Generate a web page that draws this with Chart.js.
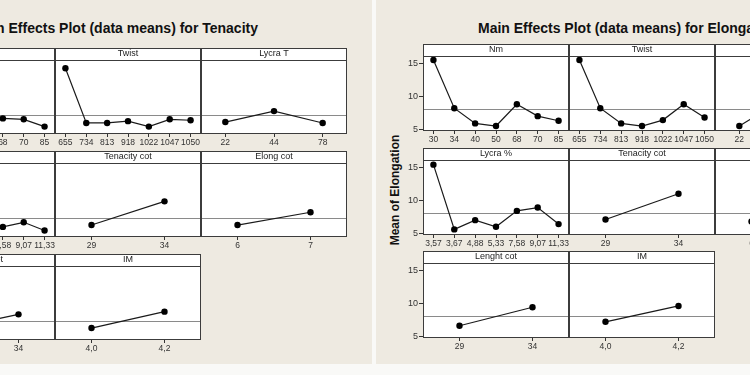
<!DOCTYPE html>
<html>
<head>
<meta charset="utf-8">
<script src="https://cdn.jsdelivr.net/npm/chart.js@4"></script>
<style>
  body { margin: 0; width: 750px; height: 375px; overflow: hidden; position: relative; background: #f9f9f7; }
  .half { position: absolute; top: 0; height: 364px; background: #eeeae1; }
  .title { position: absolute; top: 20px; font: bold 14px/16px "Liberation Sans", Arial, sans-serif; color: #111; white-space: nowrap; }
  .ytitle { position: absolute; font: bold 12px/14px "Liberation Sans", Arial, sans-serif; color: #111; white-space: nowrap;
            transform: translate(-50%, -50%) rotate(-90deg); }
  canvas { position: absolute; }
</style>
</head>
<body>
<div class="half" style="left:0;width:372px"></div>
<div class="half" style="left:376px;width:374px"></div>
<div class="title" style="right:492px">Main Effects Plot (data means) for Tenacity</div>
<div class="title" style="left:478px">Main Effects Plot (data means) for Elongation</div>
<div class="ytitle" style="left:395px;top:190px">Mean of Elongation</div>
<script>
// factor levels
var nmLevels = ["30", "34", "40", "50", "68", "70", "85"];
var twistLevels = ["655", "734", "813", "918", "1022", "1047", "1050"];
var lycraTLevels = ["22", "44", "78"];
var lycraPctLevels = ["3,57", "3,67", "4,88", "5,33", "7,58", "9,07", "11,33"];
var tenCotLevels = ["29", "34"];
var elongCotLevels = ["6", "7"];
var lenCotLevels = ["29", "34"];
var imLevels = ["4,0", "4,2"];

// means for Tenacity
var tenNm = [15.1, 9.1, 9.1, 9.3, 9.6, 9.5, 8.7];
var tenTwist = [15.1, 9.1, 9.1, 9.3, 8.7, 9.5, 9.4];
var tenLycraT = [9.2, 10.4, 9.1];
var tenLycraPct = [14.8, 9.1, 9.2, 9.3, 9.0, 9.5, 8.6];
var tenTenCot = [9.2, 11.8];
var tenElongCot = [9.2, 10.6];
var tenLenCot = [9.0, 10.7];
var tenIM = [9.2, 11.0];
var tenMean = 10.0;
var tenTicks = [10, 12, 14];

// means for Elongation
var elNm = [15.5, 8.2, 5.9, 5.5, 8.8, 7.0, 6.3];
var elTwist = [15.5, 8.2, 5.9, 5.5, 6.4, 8.8, 6.8];
var elLycraT = [5.5, 10.0, 8.5];
var elLycraPct = [15.4, 5.6, 7.0, 6.0, 8.4, 8.9, 6.4];
var elTenCot = [7.1, 11.0];
var elElongCot = [6.8, 9.6];
var elLenCot = [6.6, 9.4];
var elIM = [7.2, 9.6];
var elMean = 8.1;
var elTicks = [5, 10, 15];

var FONT = '"Liberation Sans", Arial, sans-serif';
var HEADER = 12;
var XH = 22;

// white panel, grand mean line and the frame round plot + header
var framePlugin = {
  id: "frame",
  beforeDraw: function (chart, args, o) {
    var a = chart.chartArea, ctx = chart.ctx;
    ctx.save();
    ctx.fillStyle = "#fff";
    ctx.fillRect(a.left, a.top - HEADER, a.right - a.left, a.bottom - a.top + HEADER);
    ctx.restore();
  },
  beforeDatasetsDraw: function (chart, args, o) {
    var a = chart.chartArea, ctx = chart.ctx;
    var y = Math.round(chart.scales.y.getPixelForValue(o.mean)) + 0.5;
    ctx.save();
    ctx.strokeStyle = "#8a8a8a";
    ctx.lineWidth = 1;
    ctx.beginPath();
    ctx.moveTo(a.left, y);
    ctx.lineTo(a.right, y);
    ctx.stroke();
    ctx.restore();
  },
  afterDraw: function (chart, args, o) {
    var a = chart.chartArea, ctx = chart.ctx;
    var l = Math.round(a.left) + 0.5, r = Math.round(a.right) - 0.5;
    var t = Math.round(a.top - HEADER) + 0.5, m = Math.round(a.top) + 0.5, b = Math.round(a.bottom) + 0.5;
    ctx.save();
    ctx.strokeStyle = "#3c3c3c";
    ctx.lineWidth = 1;
    ctx.strokeRect(l, t, r - l, b - t);
    ctx.beginPath();
    ctx.moveTo(l, m);
    ctx.lineTo(r, m);
    ctx.stroke();
    ctx.restore();
  }
};

function panel(x, y, w, h, name, labels, values, mean, ymin, ymax, ticks, showY) {
  var yW = showY ? 26 : 0;
  var cv = document.createElement("canvas");
  cv.width = w + yW + 2;
  cv.height = 1 + HEADER + h + XH;
  cv.style.left = (x - yW - 1) + "px";
  cv.style.top = (y - 1) + "px";
  document.body.appendChild(cv);

  new Chart(cv.getContext("2d"), {
    type: "line",
    data: {
      labels: labels,
      datasets: [
        {
          data: values,
          borderColor: "#1a1a1a",
          borderWidth: 1.2,
          pointRadius: 3.2,
          pointBackgroundColor: "#000",
          pointBorderWidth: 0,
          tension: 0,
          fill: false,
        },
      ],
    },
    options: {
      responsive: false,
      animation: false,
      devicePixelRatio: 1,
      events: [],
      layout: { autoPadding: false, padding: { left: 1, right: 1, top: 1, bottom: 0 } },
      plugins: {
        legend: { display: false },
        tooltip: { enabled: false },
        title: {
          display: true,
          text: name,
          fullSize: false,
          color: "#222",
          padding: 0,
          font: { family: FONT, size: 9, weight: "normal", lineHeight: "12px" },
        },
        frame: { mean: mean },
      },
      scales: {
        x: {
          offset: true,
          afterFit: function (s) { s.height = XH; },
          border: { display: false },
          grid: { offset: false, drawOnChartArea: false, drawTicks: true, tickLength: 4, tickColor: "#333" },
          ticks: { color: "#333", padding: 1, autoSkip: false, maxRotation: 0, font: { family: FONT, size: 8.5 } },
        },
        y: {
          display: showY,
          min: ymin,
          max: ymax,
          afterFit: function (s) { s.width = yW; },
          afterBuildTicks: function (s) {
            s.ticks = ticks.map(function (v) { return { value: v }; });
          },
          border: { display: false },
          grid: { drawOnChartArea: false, drawTicks: true, tickLength: 4, tickColor: "#333" },
          ticks: { color: "#333", padding: 1, font: { family: FONT, size: 9 } },
        },
      },
    },
    plugins: [framePlugin],
  });
}

// Tenacity grid (left, cropped)
var tx = [-91, 55, 201], ty = [48, 151, 254], pw = 146, th = 73;
panel(tx[0], ty[0], pw, th, "Nm", nmLevels, tenNm, tenMean, 8, 16, tenTicks, true);
panel(tx[1], ty[0], pw, th, "Twist", twistLevels, tenTwist, tenMean, 8, 16, tenTicks, false);
panel(tx[2], ty[0], pw, th, "Lycra T", lycraTLevels, tenLycraT, tenMean, 8, 16, tenTicks, false);
panel(tx[0], ty[1], pw, th, "Lycra %", lycraPctLevels, tenLycraPct, tenMean, 8, 16, tenTicks, true);
panel(tx[1], ty[1], pw, th, "Tenacity cot", tenCotLevels, tenTenCot, tenMean, 8, 16, tenTicks, false);
panel(tx[2], ty[1], pw, th, "Elong cot", elongCotLevels, tenElongCot, tenMean, 8, 16, tenTicks, false);
panel(tx[0], ty[2], pw, th, "Lenght cot", lenCotLevels, tenLenCot, tenMean, 8, 16, tenTicks, true);
panel(tx[1], ty[2], pw, th, "IM", imLevels, tenIM, tenMean, 8, 16, tenTicks, false);

// Elongation grid (right, cropped)
var ex = [423, 569, 715], ey = [44, 148, 251], eh = 74;
panel(ex[0], ey[0], pw, eh, "Nm", nmLevels, elNm, elMean, 4.9, 16.1, elTicks, true);
panel(ex[1], ey[0], pw, eh, "Twist", twistLevels, elTwist, elMean, 4.9, 16.1, elTicks, false);
panel(ex[2], ey[0], pw, eh, "Lycra T", lycraTLevels, elLycraT, elMean, 4.9, 16.1, elTicks, false);
panel(ex[0], ey[1], pw, eh, "Lycra %", lycraPctLevels, elLycraPct, elMean, 4.9, 16.1, elTicks, true);
panel(ex[1], ey[1], pw, eh, "Tenacity cot", tenCotLevels, elTenCot, elMean, 4.9, 16.1, elTicks, false);
panel(ex[2], ey[1], pw, eh, "Elong cot", elongCotLevels, elElongCot, elMean, 4.9, 16.1, elTicks, false);
panel(ex[0], ey[2], pw, eh, "Lenght cot", lenCotLevels, elLenCot, elMean, 4.9, 16.1, elTicks, true);
panel(ex[1], ey[2], pw, eh, "IM", imLevels, elIM, elMean, 4.9, 16.1, elTicks, false);
</script>
</body>
</html>
